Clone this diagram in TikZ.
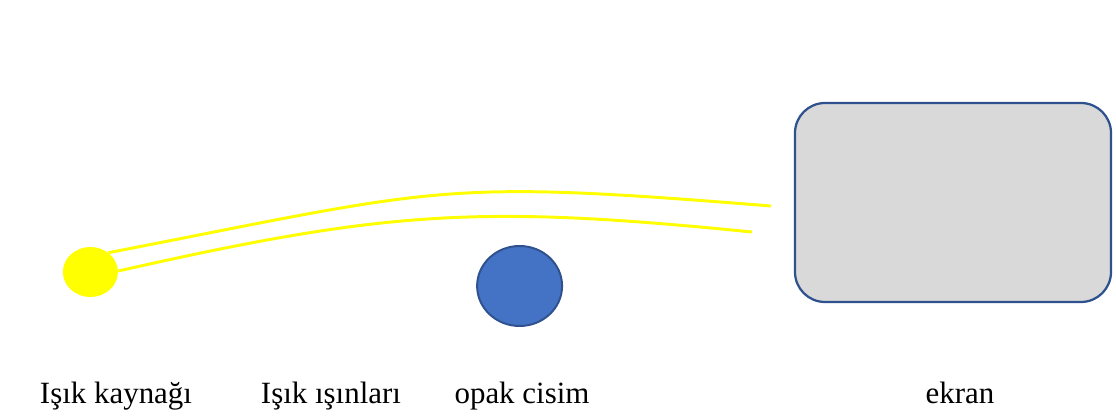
\documentclass[tikz,border=0pt]{standalone}
\usepackage{fontspec}
\setmainfont{Liberation Serif}
\usepackage{tikz}
\usetikzlibrary{shapes.geometric, positioning}
\definecolor{rayY}{RGB}{255,255,0}
\definecolor{objB}{RGB}{68,114,196}
\definecolor{edgeB}{RGB}{47,82,143}
\definecolor{scrG}{RGB}{217,217,217}
\tikzset{ray/.style={rayY, line width=2.1pt},
  lbl/.style={anchor=base, font=\fontsize{22}{26}\selectfont}}

\begin{document}
\begin{tikzpicture}
\useasboundingbox (0,0) rectangle (27.9,10.475);
% light source
\node[ellipse, fill=rayY, minimum width=1.375cm, minimum height=1.25cm, inner sep=0pt] (src) at (2.26,3.675) {};
% opaque object
\node[ellipse, fill=objB, draw=edgeB, line width=1.4pt, minimum width=2.125cm, minimum height=2.0cm, inner sep=0pt] (obj) at (12.99,3.325) {};
% screen
\node[rectangle, rounded corners=0.75cm, fill=scrG, draw=edgeB, line width=1.6pt, minimum width=7.9cm, minimum height=4.975cm] (scr) at (23.825,5.4125) {};
% free ends of the rays
\coordinate (r1) at (19.275,5.325);
\coordinate (r2) at (18.8,4.675);
% light rays bending over the object
\draw[ray] (src.47) .. controls +(8.375,1.625) and +(-8.375,0.675) .. (r1);
\draw[ray] (src.2) .. controls +(6.75,1.525) and +(-6.75,0.675) .. (r2);
% labels
\node[lbl] (lsrc) at (2.9,0.375) {Işık kaynağı};
\node[lbl] (lray) at (8.275,0.375) {Işık ışınları};
\node[lbl] (lobj) at (13.05,0.375) {opak cisim};
\node[lbl] (lscr) at (24.0,0.375) {ekran};
\end{tikzpicture}
\end{document}
